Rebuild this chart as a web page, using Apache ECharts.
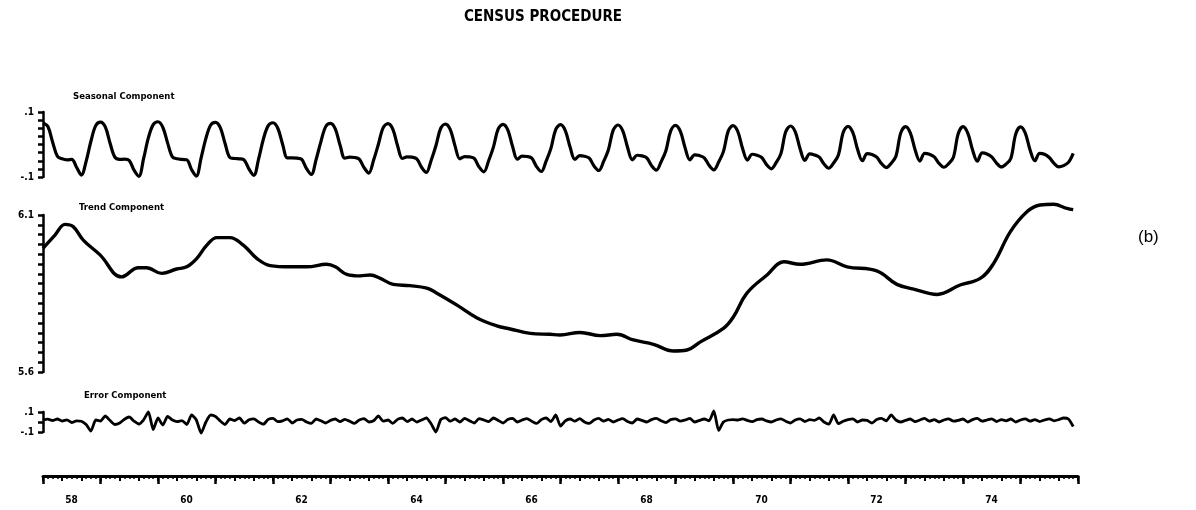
<!DOCTYPE html>
<html><head><meta charset="utf-8">
<script src="https://cdn.jsdelivr.net/npm/echarts@6/dist/echarts.min.js"></script>
<style>html,body{margin:0;padding:0;background:#fff}#c{width:1196px;height:510px}</style>
</head><body><div id="c"></div>
<script>
// x axis: months since Jan 1958 (0..216)
const yearLabels = ['58','60','62','64','66','68','70','72','74'];
const yearLabelMonths = [0,24,48,72,96,120,144,168,192];

const seasonalTicks = ['.1','-.1'];
const trendTicks = ['6.1','5.6'];
const errorTicks = ['.1','-.1'];

// Seasonal component, monthly 1958-1975
const seasonal = [
 0.066,0.056,0.008,-0.036,-0.044,-0.047,-0.046,-0.070,-0.094,-0.052,0.010,0.058,
 0.069,0.054,0.004,-0.039,-0.046,-0.045,-0.049,-0.079,-0.098,-0.043,0.021,0.061,
 0.070,0.053,0.005,-0.038,-0.044,-0.046,-0.047,-0.077,-0.097,-0.041,0.019,0.060,
 0.068,0.052,0.003,-0.040,-0.043,-0.044,-0.048,-0.076,-0.095,-0.044,0.017,0.058,
 0.067,0.050,0.001,-0.041,-0.041,-0.042,-0.046,-0.074,-0.092,-0.046,0.009,0.055,
 0.065,0.048,-0.002,-0.042,-0.039,-0.040,-0.045,-0.071,-0.088,-0.048,0.001,0.052,
 0.064,0.047,-0.004,-0.043,-0.038,-0.039,-0.044,-0.070,-0.086,-0.049,-0.004,0.050,
 0.063,0.046,-0.005,-0.044,-0.037,-0.038,-0.043,-0.069,-0.084,-0.050,-0.008,0.048,
 0.062,0.045,-0.006,-0.045,-0.036,-0.037,-0.042,-0.068,-0.083,-0.051,-0.012,0.046,
 0.061,0.043,-0.008,-0.046,-0.034,-0.036,-0.042,-0.066,-0.080,-0.052,-0.016,0.044,
 0.060,0.042,-0.009,-0.047,-0.033,-0.035,-0.041,-0.065,-0.079,-0.053,-0.019,0.042,
 0.059,0.041,-0.010,-0.047,-0.032,-0.034,-0.041,-0.064,-0.078,-0.054,-0.022,0.041,
 0.058,0.040,-0.012,-0.048,-0.030,-0.033,-0.040,-0.062,-0.075,-0.056,-0.028,0.039,
 0.057,0.039,-0.013,-0.049,-0.029,-0.032,-0.039,-0.060,-0.073,-0.057,-0.032,0.037,
 0.056,0.037,-0.015,-0.050,-0.028,-0.031,-0.039,-0.059,-0.071,-0.058,-0.036,0.035,
 0.055,0.036,-0.016,-0.051,-0.027,-0.030,-0.038,-0.058,-0.070,-0.059,-0.039,0.033,
 0.055,0.035,-0.017,-0.051,-0.026,-0.029,-0.038,-0.057,-0.069,-0.060,-0.042,0.032,
 0.054,0.035,-0.017,-0.050,-0.027,-0.030,-0.040,-0.058,-0.069,-0.065,-0.055,-0.027
];

// Trend component, read at irregular months
const trendMonths = [0,2.5,4.6,6.3,8.4,11.9,16.4,19.9,21.6,24.8,27.9,30.0,32.1,34.2,36.3,39.0,41.8,44.6,47.4,51.6,55.1,59.2,61.0,63.4,66.2,68.3,70.4,73.1,76.6,80.1,82.2,86.4,90.5,94.7,97.5,101.7,105.8,107.9,112.1,116.3,119.8,123.2,127.4,131.6,134.4,137.2,142.0,144.1,146.9,151.1,154.6,158.0,163.6,167.8,174.0,178.2,181.7,186.6,191.4,195.6,198.4,201.9,205.4,208.1,210.9,213.7,215];
const trendValues = [5.994,6.036,6.070,6.063,6.020,5.973,5.903,5.932,5.932,5.914,5.928,5.935,5.962,6.004,6.028,6.028,6.004,5.962,5.939,5.935,5.935,5.943,5.935,5.911,5.906,5.909,5.898,5.879,5.875,5.867,5.851,5.813,5.773,5.747,5.737,5.723,5.720,5.718,5.726,5.716,5.720,5.702,5.688,5.667,5.670,5.696,5.739,5.776,5.851,5.909,5.951,5.943,5.957,5.935,5.922,5.879,5.864,5.847,5.877,5.898,5.946,6.047,6.111,6.132,6.134,6.121,6.117];

// Error component, monthly 1958-1975
const errorVals = [
 0.020,0.028,0.015,0.030,0.010,0.022,-0.005,0.012,0.008,-0.025,-0.090,0.020,
 0.010,0.060,0.015,-0.025,-0.010,0.028,0.050,0.008,-0.020,0.022,0.100,-0.075,
 0.040,-0.030,0.055,0.020,0.004,0.014,-0.025,0.070,0.020,-0.110,0.000,0.070,
 0.055,0.010,-0.025,0.030,0.015,0.040,-0.012,0.022,0.032,0.000,-0.022,0.026,
 0.036,0.004,0.012,0.032,-0.010,0.020,0.026,0.000,-0.014,0.030,0.012,-0.010,
 0.016,0.030,0.004,0.026,0.008,-0.014,0.020,0.034,0.000,0.012,0.060,0.008,
 0.020,-0.014,0.026,0.040,0.004,0.030,0.000,0.020,0.040,-0.018,-0.100,0.024,
 0.044,0.008,0.030,0.000,0.036,0.012,-0.010,0.034,0.020,0.004,0.040,0.016,
 -0.010,0.024,0.036,0.000,0.020,0.034,0.008,-0.014,0.024,0.040,0.004,0.070,
 -0.040,0.012,0.030,0.008,0.034,0.000,-0.014,0.020,0.036,0.008,0.026,0.000,
 0.020,0.034,0.004,-0.010,0.030,0.016,0.000,0.024,0.036,0.012,-0.006,0.024,
 0.032,0.008,0.020,0.036,0.000,0.016,0.030,0.012,0.110,-0.085,0.000,0.020,
 0.024,0.020,0.032,0.016,0.004,0.024,0.030,0.012,0.000,0.020,0.032,0.008,
 -0.010,0.020,0.032,0.004,0.024,0.016,0.040,0.000,-0.022,0.070,-0.016,0.008,
 0.024,0.032,0.000,0.020,0.016,-0.010,0.024,0.036,0.012,0.070,0.020,0.000,
 0.016,0.030,0.004,0.020,0.036,0.008,0.024,0.000,0.020,0.032,0.008,0.016,
 0.030,0.000,0.024,0.036,0.008,0.020,0.032,0.004,0.024,0.012,0.030,0.000,
 0.020,0.032,0.008,0.024,0.004,0.020,0.032,0.012,0.024,0.040,0.030,-0.045
];

const FONT = 'DejaVu Sans Condensed';
const black = '#000';
const lbl = {color: black, fontFamily: FONT, fontWeight: 'bold', fontSize: 10};
const axLine = {show: true, onZero: false, lineStyle: {color: black, width: 2.5}};
const L = 43, R = 118;

function endLabels(min, max, texts) {
  return function (v) {
    if (Math.abs(v - max) < 1e-6) return texts[0];
    if (Math.abs(v - min) < 1e-6) return texts[1];
    return '';
  };
}

const chart = echarts.init(document.getElementById('c'), null, {renderer: 'canvas'});
chart.setOption({
  animation: false,
  backgroundColor: '#fff',
  title: [
    {text: 'CENSUS PROCEDURE', left: 538, top: 5, textAlign: 'center',
     textStyle: {color: black, fontFamily: FONT, fontWeight: 'bold', fontSize: 15}},
    {text: 'Seasonal Component', left: 68, top: 87, textStyle: Object.assign({}, lbl, {fontSize: 9.5})},
    {text: 'Trend Component', left: 74, top: 198, textStyle: Object.assign({}, lbl, {fontSize: 9.5})},
    {text: 'Error Component', left: 79, top: 386, textStyle: Object.assign({}, lbl, {fontSize: 9.5})}
  ],
  graphic: [{type: 'text', left: 1138, top: 229,
    style: {text: '(b)', fill: black, font: '17px "Liberation Sans"'}}],
  grid: [
    {left: L, right: R, top: 112, height: 65},
    {left: L, right: R, top: 215, height: 157},
    {left: L, right: R, top: 412, height: 20}
  ],
  xAxis: [
    {gridIndex: 0, type: 'value', min: 0, max: 216, show: false},
    {gridIndex: 1, type: 'value', min: 0, max: 216, show: false},
    {gridIndex: 2, type: 'value', min: 0, max: 216, interval: 12, position: 'bottom', offset: 44,
     axisLine: {show: true, onZero: false, lineStyle: {color: black, width: 3}},
     axisTick: {show: true, length: 8, lineStyle: {color: black, width: 2.5}},
     minorTick: {show: true, splitNumber: 12, length: 3, lineStyle: {color: black, width: 1.5}},
     splitLine: {show: false}, minorSplitLine: {show: false},
     axisLabel: {
       margin: 19,
       formatter: function (v) {
         const k = yearLabelMonths.indexOf(Math.round(v));
         return k >= 0 ? '{a|' + yearLabels[k] + '}' : '';
       },
       rich: {a: {padding: [0, 0, 0, 57], color: black, fontFamily: FONT, fontWeight: 'bold', fontSize: 10}}
     }},
    {gridIndex: 2, type: 'value', min: 0, max: 216, interval: 4, position: 'bottom', offset: 44,
     axisLine: {show: false, onZero: false},
     axisTick: {show: true, length: 5, lineStyle: {color: black, width: 2}},
     axisLabel: {show: false}, splitLine: {show: false}}
  ],
  yAxis: [
    {gridIndex: 0, type: 'value', min: -0.1, max: 0.1, interval: 0.025, position: 'left',
     axisLine: axLine, axisTick: {show: true, length: 5, lineStyle: {color: black, width: 2.5}},
     splitLine: {show: false},
     axisLabel: Object.assign({margin: 9, formatter: endLabels(-0.1, 0.1, seasonalTicks)}, lbl)},
    {gridIndex: 1, type: 'value', min: 5.6, max: 6.1, interval: 0.1, position: 'left',
     axisLine: axLine, axisTick: {show: false}, splitLine: {show: false},
     axisLabel: Object.assign({margin: 9, formatter: endLabels(5.6, 6.1, trendTicks)}, lbl)},
    {gridIndex: 1, type: 'value', min: 0, max: 16, interval: 1, position: 'left',
     axisLine: {show: false, onZero: false}, axisTick: {show: true, length: 5, lineStyle: {color: black, width: 2.5}},
     axisLabel: {show: false}, splitLine: {show: false}},
    {gridIndex: 2, type: 'value', min: -0.1, max: 0.1, interval: 0.1, position: 'left',
     axisLine: axLine, axisTick: {show: true, length: 5, lineStyle: {color: black, width: 2.5}},
     splitLine: {show: false},
     axisLabel: Object.assign({margin: 9, formatter: endLabels(-0.1, 0.1, errorTicks)}, lbl)}
  ],
  series: [
    {type: 'line', xAxisIndex: 0, yAxisIndex: 0, showSymbol: false, smooth: 0.35, clip: false,
     lineStyle: {color: black, width: 3.2}, data: seasonal.map((v, i) => [i, v])},
    {type: 'line', xAxisIndex: 1, yAxisIndex: 1, showSymbol: false, smooth: 0.4, clip: false,
     lineStyle: {color: black, width: 3.4}, data: trendMonths.map((m, i) => [m, trendValues[i]])},
    {type: 'line', xAxisIndex: 2, yAxisIndex: 3, showSymbol: false, smooth: 0.2, clip: false,
     lineStyle: {color: black, width: 2.8}, data: errorVals.map((v, i) => [i, v])}
  ]
});
</script></body></html>
